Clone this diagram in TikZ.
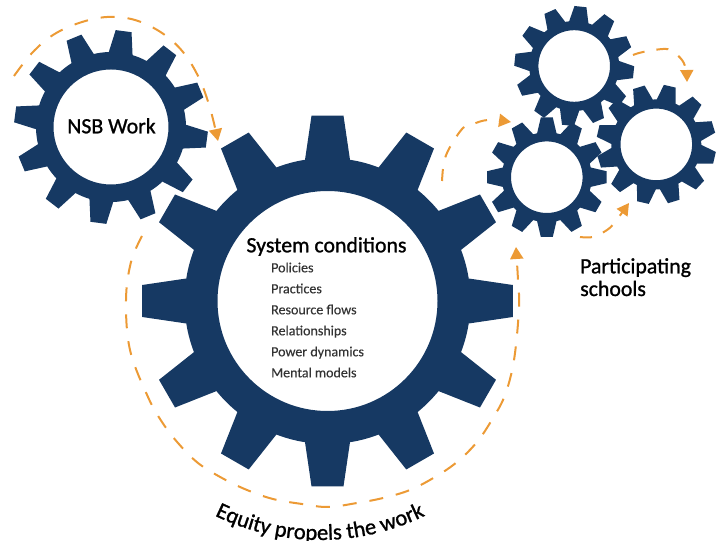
\documentclass[tikz,border=0pt]{standalone}
\usepackage{fontspec}
\setmainfont{Carlito}
\newfontfamily\headfont[FakeBold=1.1]{Carlito}
\newfontfamily\itemfont[FakeBold=0.3]{Carlito}
\usetikzlibrary{arrows.meta,decorations.text}
\definecolor{gearblue}{HTML}{163963}
\definecolor{floworange}{HTML}{EC9A35}
\definecolor{listgray}{HTML}{333333}
\tikzset{
  gearfill/.style={fill=gearblue,even odd rule},
  flowline/.style={draw=floworange,line width=2pt,dash pattern=on 14pt off 13pt,-{Triangle[length=12pt,width=13pt,fill=floworange]}},
  shortflow/.style={flowline,dash pattern=on 12pt off 12pt},
  headlabel/.style={font=\headfont\fontsize{21.8}{22}\selectfont,text=black,inner sep=0pt},
  itemlabel/.style={font=\itemfont\fontsize{14}{14}\selectfont,text=listgray,anchor=base west,inner sep=0pt}
}
% x y rotation root tip tiphalf roothalf hole
\newcommand{\gearwheel}[8]{%
  \begin{scope}[shift={(#1,#2)}]
    \pgfmathsetmacro{\tipang}{asin(#6/#5)}
    \pgfmathsetmacro{\rootang}{asin(#7/#4)}
    \fill[gearfill] (#3-\rootang:#4)
      \foreach \k [evaluate=\k as \a using #3+\k*30] in {0,...,11} {
        -- (\a-\rootang:#4) -- (\a-\tipang:#5) -- (\a+\tipang:#5) -- (\a+\rootang:#4)
        arc[start angle=\a+\rootang,end angle=\a+30-\rootang,radius=#4]
      } -- cycle (0,0) circle[radius=#8];
  \end{scope}
}
\begin{document}
\begin{tikzpicture}[x=1pt,y=1pt]
\useasboundingbox (0,0) rectangle (727,540);
%gears
\gearwheel{111}{413}{22.5}{75}{97}{8}{12}{57.5}
\gearwheel{327.5}{239}{0}{143}{186}{16}{22.5}{110}
\gearwheel{574.2}{474}{24}{45}{60}{6}{9.7}{35.8}
\gearwheel{546.8}{362.8}{0}{45}{60}{6}{9.7}{35.8}
\gearwheel{656.3}{395.6}{17}{45}{60}{6}{9.7}{35.8}
%flows
\draw[flowline] plot[smooth,tension=0.6] coordinates {(14,464) (32,487) (53,505) (79,517) (107,523) (135,520) (162,507) (183,488) (199,462) (210,432) (218,399)};
\draw[flowline] plot[smooth,tension=0.6] coordinates {(142,304) (131,278) (126,240) (130,190) (148,143) (162,118) (178,97) (198,77) (222,62) (247,50) (273,41) (302,36) (328,33) (357,37) (383,42) (410,50) (435,63) (457,78) (477,98) (493,122) (505,145) (514,180) (519,232) (518,260) (516,293)};
\draw[shortflow] plot[smooth,tension=0.6] coordinates {(442,359) (444,378) (450,393) (463,412) (473,416) (488,420) (511,418)};
\draw[shortflow] plot[smooth,tension=0.6] coordinates {(633,485) (643,488) (663,491) (672,489) (682,480) (686,470) (687,458)};
\draw[shortflow] plot[smooth,tension=0.6] coordinates {(580,303) (593,303) (607,310) (615,318) (629,337)};
%labels
\node[headlabel,anchor=base] (nsb) at (111.5,406.7) {NSB Work};
\node[headlabel,anchor=base] (system) at (326.5,287.7) {System conditions};
\node[itemlabel] (policies) at (271,267.7) {Policies};
\node[itemlabel] (practices) at (271,246.7) {Practices};
\node[itemlabel] (resource) at (271,225.7) {Resource flows};
\node[itemlabel] (relations) at (271,204.7) {Relationships};
\node[itemlabel] (power) at (271,183.7) {Power dynamics};
\node[itemlabel] (mental) at (271,162.7) {Mental models};
\node[headlabel,anchor=base west] (part) at (580,266.7) {Participating};
\node[headlabel,anchor=base west] (schools) at (580,244) {schools};
\path[decorate,decoration={text along path,text align=center,text={|\headfont\fontsize{22.5}{23}\selectfont|Equity propels the work}}]
  (320,239) ++(-115.5:239) arc[start angle=-115.5,end angle=-64.5,radius=239];
\end{tikzpicture}
\end{document}
